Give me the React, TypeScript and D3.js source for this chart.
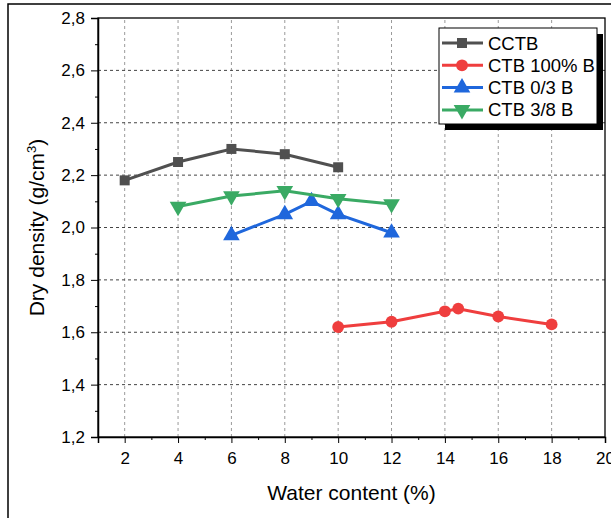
import React, { useEffect, useRef } from 'react';
import * as d3 from 'd3';

// Water content (%) and dry density (g/cm3) per mix
const cctbX = [2, 4, 6, 8, 10];
const cctbY = [2.18, 2.25, 2.3, 2.28, 2.23];
const ctb100X = [10, 12, 14, 14.5, 16, 18];
const ctb100Y = [1.62, 1.64, 1.68, 1.69, 1.66, 1.63];
const ctb03X = [6, 8, 9, 10, 12];
const ctb03Y = [1.97, 2.05, 2.1, 2.05, 1.98];
const ctb38X = [4, 6, 8, 10, 12];
const ctb38Y = [2.08, 2.12, 2.14, 2.11, 2.09];

const xTicks = [2, 4, 6, 8, 10, 12, 14, 16, 18, 20];
const yTicks = [1.2, 1.4, 1.6, 1.8, 2.0, 2.2, 2.4, 2.6, 2.8];

const seriesNames = ['CCTB', 'CTB 100% B', 'CTB 0/3 B', 'CTB 3/8 B'];
const seriesColors = ['#505050', '#ef3e3e', '#1f67dc', '#3aaa64'];
const seriesSymbols = [d3.symbolSquare, d3.symbolCircle, d3.symbolTriangle, d3.symbolTriangle];

export default function App() {
  const ref = useRef<SVGSVGElement>(null);

  useEffect(() => {
    const svg = d3.select(ref.current);
    svg.selectAll('*').remove();

    const x = d3.scaleLinear().domain([1, 20]).range([98, 605]);
    const y = d3.scaleLinear().domain([1.2, 2.8]).range([437, 18]);
    const fmt = (v: number) => d3.format('.1f')(v).replace('.', ',');

    // outer frame
    svg.append('path').attr('d', 'M8,518 V4 H611').attr('fill', 'none').attr('stroke', '#000').attr('stroke-width', 1.5);

    // grid
    svg.append('g').selectAll('line').data(xTicks.filter(d => d < 20)).join('line')
      .attr('x1', d => x(d)).attr('x2', d => x(d)).attr('y1', y(1.2)).attr('y2', y(2.8))
      .attr('stroke', '#9a9a9a').attr('stroke-dasharray', '3,3');
    svg.append('g').selectAll('line').data(yTicks.filter(d => d > 1.2 && d < 2.8)).join('line')
      .attr('x1', x(1)).attr('x2', x(20)).attr('y1', d => y(d)).attr('y2', d => y(d))
      .attr('stroke', '#444').attr('stroke-dasharray', '3,3');

    // plot frame
    svg.append('rect').attr('x', x(1)).attr('y', y(2.8)).attr('width', x(20) - x(1)).attr('height', y(1.2) - y(2.8))
      .attr('fill', 'none').attr('stroke', '#000').attr('stroke-width', 1.3);

    const fontFam = "'Liberation Sans', Arial, sans-serif";

    // x axis
    const gx = svg.append('g').attr('transform', `translate(0,${y(1.2)})`)
      .call(d3.axisBottom(x).tickValues(xTicks).tickSize(6).tickPadding(9).tickFormat(d => String(d)));
    svg.append('g').attr('transform', `translate(0,${y(1.2)})`)
      .call(d3.axisBottom(x).tickValues(d3.range(1, 20, 2)).tickSize(3).tickFormat(() => ''))
      .select('.domain').remove();
    gx.select('.domain').attr('stroke-width', 1.5);
    gx.selectAll('text').attr('font-size', 17).attr('font-family', fontFam).attr('fill', '#000');

    // y axis
    const gy = svg.append('g').attr('transform', `translate(${x(1)},0)`)
      .call(d3.axisLeft(y).tickValues(yTicks).tickSize(7).tickPadding(6).tickFormat(d => fmt(+d)));
    svg.append('g').attr('transform', `translate(${x(1)},0)`)
      .call(d3.axisLeft(y).tickValues(d3.range(1.3, 2.8, 0.2)).tickSize(3).tickFormat(() => ''))
      .select('.domain').remove();
    gy.select('.domain').attr('stroke-width', 1.5);
    gy.selectAll('text').attr('font-size', 17).attr('font-family', fontFam).attr('fill', '#000');

    // axis titles
    svg.append('text').attr('x', (x(1) + x(20)) / 2).attr('y', 500).attr('text-anchor', 'middle')
      .attr('font-size', 21).attr('font-family', fontFam).text('Water content (%)');
    const yt = svg.append('text').attr('transform', `translate(44,${y(2.0)}) rotate(-90)`).attr('text-anchor', 'middle')
      .attr('font-size', 21).attr('font-family', fontFam);
    yt.append('tspan').text('Dry density (g/cm');
    yt.append('tspan').attr('font-size', 13).attr('dy', -8).text('3');
    yt.append('tspan').attr('dy', 8).text(')');

    const allX = [cctbX, ctb100X, ctb03X, ctb38X];
    const allY = [cctbY, ctb100Y, ctb03Y, ctb38Y];
    const symSize = [100, 110, 120, 120];
    const symRot = [0, 0, 0, 180];

    allX.forEach((xs, i) => {
      const pts = xs.map((v, j) => [v, allY[i][j]] as [number, number]);
      svg.append('path').datum(pts)
        .attr('d', d3.line<[number, number]>().x(d => x(d[0])).y(d => y(d[1])))
        .attr('fill', 'none').attr('stroke', seriesColors[i]).attr('stroke-width', 3);
      svg.append('g').selectAll('path').data(pts).join('path')
        .attr('transform', d => `translate(${x(d[0])},${y(d[1])}) rotate(${symRot[i]})`)
        .attr('d', d3.symbol().type(seriesSymbols[i]).size(symSize[i])())
        .attr('fill', seriesColors[i]);
    });

    // legend
    const lg = svg.append('g');
    lg.append('rect').attr('x', 445).attr('y', 34).attr('width', 158).attr('height', 96).attr('fill', '#000');
    lg.append('rect').attr('x', 439).attr('y', 28).attr('width', 158).attr('height', 96)
      .attr('fill', '#fff').attr('stroke', '#000').attr('stroke-width', 1);
    seriesNames.forEach((name, i) => {
      const ry = 43 + i * 22.3;
      lg.append('line').attr('x1', 442).attr('x2', 483).attr('y1', ry).attr('y2', ry)
        .attr('stroke', seriesColors[i]).attr('stroke-width', 3);
      lg.append('path').attr('transform', `translate(462,${ry}) rotate(${symRot[i]})`)
        .attr('d', d3.symbol().type(seriesSymbols[i]).size(symSize[i])())
        .attr('fill', seriesColors[i]);
      lg.append('text').attr('x', 488).attr('y', ry + 6.5).attr('font-size', 18.5)
        .attr('font-family', fontFam).text(name);
    });
  }, []);

  return (
    <svg ref={ref} width={611} height={518} style={{ position: 'absolute', left: 0, top: 0, background: '#fff' }} />
  );
}
